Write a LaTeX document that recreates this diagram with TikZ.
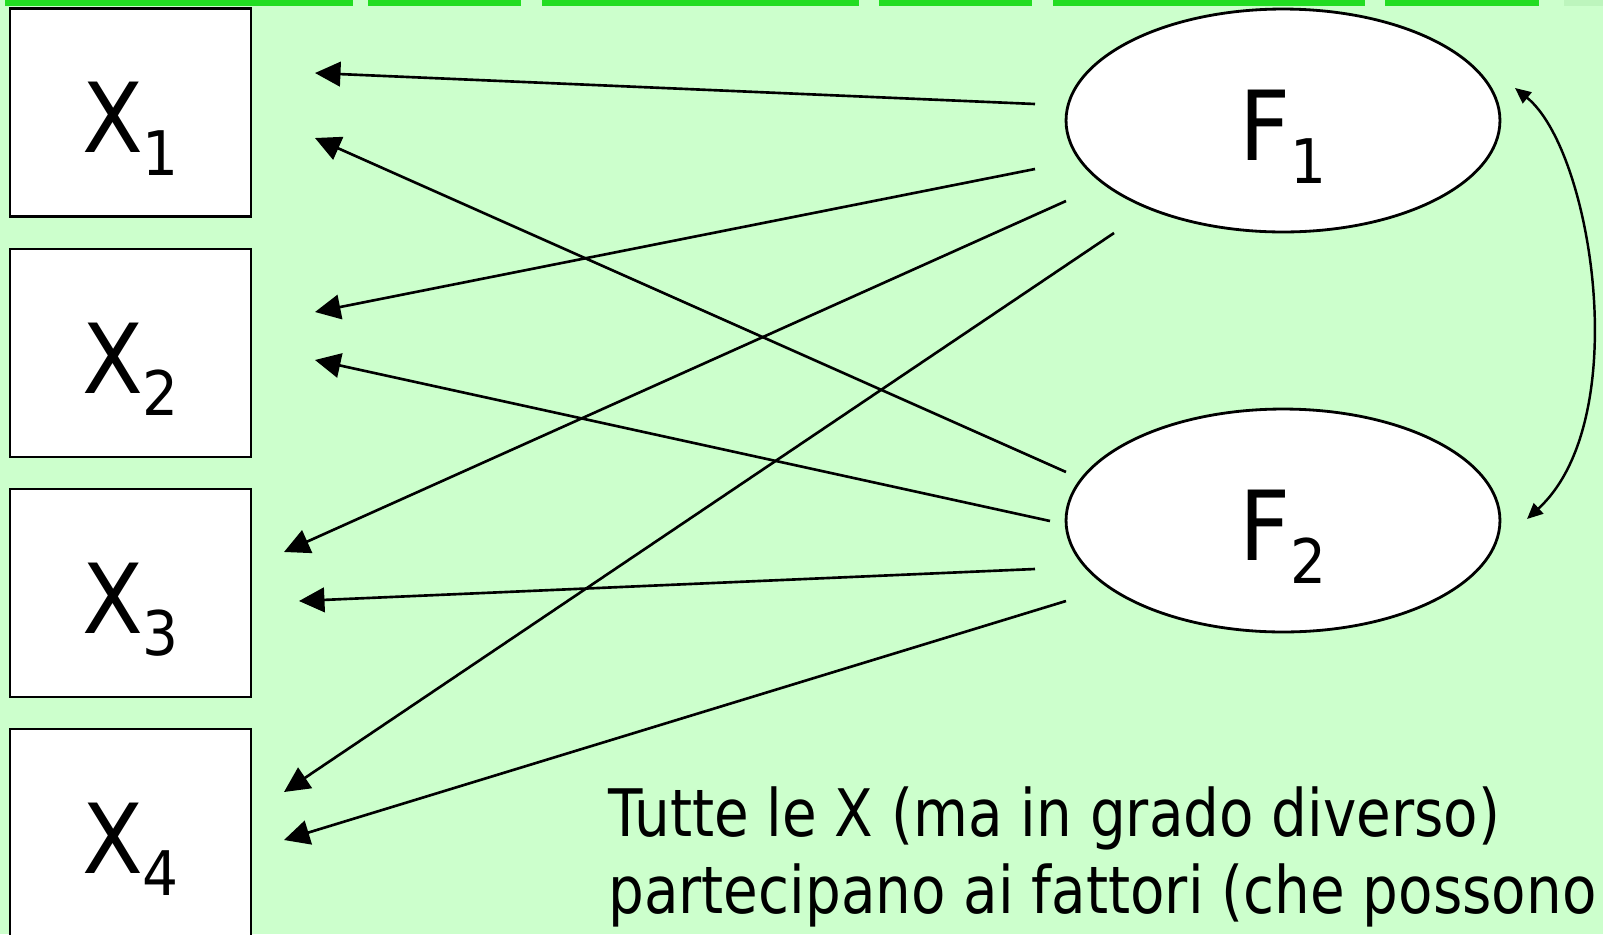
\documentclass[tikz,border=0pt]{standalone}
\usepackage{fontspec}
\setmainfont{DejaVu Sans}[FakeStretch=0.86]
\newfontfamily\labelfont{DejaVu Sans}[FakeStretch=0.92]
\usetikzlibrary{shapes.geometric,arrows.meta}
\definecolor{paleback}{HTML}{CCFFCC}
\definecolor{topgreen}{HTML}{22DD22}
\newcommand\lowidx[1]{\raisebox{-13pt}{\fontsize{35}{35}\selectfont #1}}
\tikzset{
  obsbox/.style={draw, line width=1.4pt, fill=white, minimum width=4.82cm,
    minimum height=4.16cm, inner sep=0pt, text height=1.6cm, text depth=0pt,
    font=\labelfont\fontsize{55}{55}\selectfont},
  factor/.style={ellipse, draw, line width=1.6pt, fill=white, minimum width=8.68cm,
    minimum height=4.46cm, inner sep=0pt, text height=1.6cm, text depth=0pt,
    font=\labelfont\fontsize{55}{55}\selectfont},
  loading/.style={line width=1.5pt, -{Triangle[length=14.5pt,width=14pt]}},
  corr/.style={line width=1.4pt, {Triangle[length=9pt,width=8pt]}-{Triangle[length=9pt,width=8pt]}},
  topline/.style={line width=4.5pt, topgreen},
  notetext/.style={anchor=base west, inner sep=0pt, font=\fontsize{37.3}{43.7}\selectfont}
}
\begin{document}
\begin{tikzpicture}[x=0.02cm, y=-0.02cm]
      \fill[paleback] (0,0) rectangle (1603,934);
      \useasboundingbox (0,0) rectangle (1603,934);
      \foreach \a/\b in {5/353, 368/521, 542/859, 879/1032, 1053/1365, 1385/1539}
        \draw[topline] (\a,2) -- (\b,2);
      \draw[topline, topgreen!30] (1564,2) -- (1603,2);
      \draw
        (130.5,112.5) node[obsbox] (x1){X\lowidx{1}}
        (130.5,353) node[obsbox] (x2){X\lowidx{2}}
        (130.5,593) node[obsbox] (x3){X\lowidx{3}}
        (130.5,833) node[obsbox] (x4){X\lowidx{4}}
        (1283,120.5) node[factor] (f1){F\lowidx{1}}
        (1283,520.5) node[factor] (f2){F\lowidx{2}};
      \draw
        (315,73) coordinate (x1a)
        (315,138) coordinate (x1b)
        (315,312) coordinate (x2a)
        (315,360) coordinate (x2b)
        (284,552) coordinate (x3a)
        (299,601) coordinate (x3b)
        (284,792) coordinate (x4a)
        (284,840) coordinate (x4b)
        (1035,104) coordinate (f1to1)
        (1035,169) coordinate (f1to2)
        (1066,201) coordinate (f1to3)
        (1114,233) coordinate (f1to4)
        (1066,472) coordinate (f2to1)
        (1050,521) coordinate (f2to2)
        (1035,569) coordinate (f2to3)
        (1066,601) coordinate (f2to4)
        (1515,88) coordinate (c1)
        (1527,519) coordinate (c2);
      \begin{scope}[loading]
        \draw (f1to1) to (x1a);
        \draw (f2to1) to (x1b);
        \draw (f1to2) to (x2a);
        \draw (f2to2) to (x2b);
        \draw (f1to3) to (x3a);
        \draw (f2to3) to (x3b);
        \draw (f1to4) to (x4a);
        \draw (f2to4) to (x4b);
      \end{scope}
      \draw[corr] (c1) .. controls (1592,150) and (1635,420) .. (c2);
      \node[notetext] (note1) at (608,836) {Tutte le X (ma in grado diverso)};
      \node[notetext] (note2) at (608,913) {partecipano ai fattori (che possono};
    \end{tikzpicture}
\end{document}
